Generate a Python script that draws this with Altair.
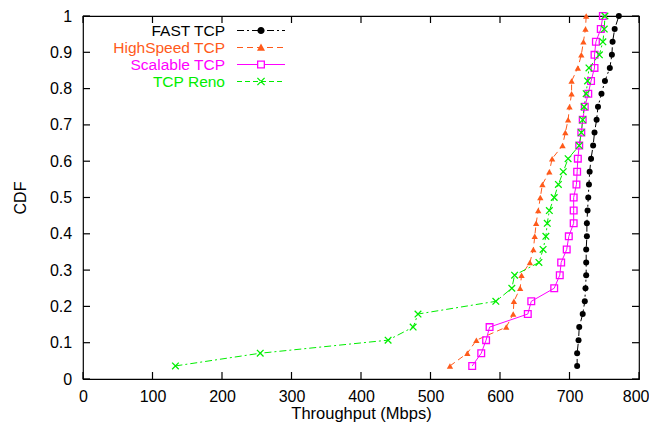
import altair as alt
import pandas as pd

# ---------------- data ----------------
SERIES = ["FAST TCP", "HighSpeed TCP", "Scalable TCP", "TCP Reno"]
COLORS = ["#000000", "#ff5a1a", "#ff00ff", "#00ee00"]

CDF = [0.036, 0.071, 0.107, 0.143, 0.179, 0.214, 0.25, 0.286, 0.321, 0.357,
       0.393, 0.429, 0.464, 0.5, 0.536, 0.571, 0.607, 0.643, 0.679, 0.714,
       0.75, 0.786, 0.821, 0.857, 0.893, 0.929, 0.964, 1.0]

FAST = [711, 711, 713, 714, 719, 722, 723, 724, 724, 724, 725, 725, 726, 727,
        728, 729, 731, 734, 736, 739, 741, 746, 751, 758, 761, 762, 765, 771]
HIGHSPEED = [528, 553, 566, 609, 619, 620, 629, 631, 643, 648, 650, 652, 655, 658,
             661, 671, 675, 690, 694, 698, 700, 703, 703, 712, 717, 720, 723, 724]
SCALABLE = [560, 573, 580, 585, 640, 645, 678, 686, 688, 696, 699, 706, 706, 706,
            710, 711, 712, 714, 717, 719, 722, 727, 731, 736, 736, 738, 745, 748]
RENO = [133, 255, 439, 475, 482, 594, 617, 621, 656, 662, 666, 668, 671, 678,
        684, 691, 698, 714, 717, 719, 721, 724, 726, 728, 743, 748, 750, 751]

X_TICKS = [0, 100, 200, 300, 400, 500, 600, 700, 800]
Y_TICKS = [0, 0.1, 0.2, 0.3, 0.4, 0.5, 0.6, 0.7, 0.8, 0.9, 1]

rows = []
for name, vals in zip(SERIES, [FAST, HIGHSPEED, SCALABLE, RENO]):
    for v, c in zip(vals, CDF):
        rows.append({"series": name, "throughput": v, "cdf": c})
df = pd.DataFrame(rows)
xt_df = pd.DataFrame({"v": X_TICKS})
yt_df = pd.DataFrame({"v": Y_TICKS})

# ---------------- styling ----------------
W, H = 556, 363
TICK = 7
FONT = "Liberation Sans"
RENO_X = "M-1,-1L1,1M-1,1L1,-1"

STYLE = {
    "FAST TCP": dict(dash=[7, 3, 2, 3], shape="circle", filled=True, size=36, sw=1),
    "HighSpeed TCP": dict(dash=[6, 4], shape="triangle-up", filled=True, size=40, sw=1),
    "Scalable TCP": dict(dash=None, shape="square", filled=False, size=45, sw=1.3),
    "TCP Reno": dict(dash=[7, 3, 2, 3], shape=RENO_X, filled=False, size=44, sw=1.3),
}

xs = alt.Scale(domain=[0, 800], nice=False, zero=False)
ys = alt.Scale(domain=[0, 1], nice=False, zero=False)
cs = alt.Scale(domain=SERIES, range=COLORS)

# ---- legend symbols: line sample + marker, drawn as filled shapes ----
U = 8.0  # px per path unit (symbolSize 256 -> 16px box)


def f(v):
    return f"{v / U:.3f}"


def seg(x0, x1, h=1.0):
    return f"M{f(x0)},{f(-h / 2)}H{f(x1)}V{f(h / 2)}H{f(x0)}Z"


def line_path(pattern, gap=None, half=24):
    out = []
    if not pattern:
        pieces = [(-half, half)]
    else:
        pieces = []
        x, i, on = -half, 0, True
        while x < half:
            L = pattern[i % len(pattern)]
            if on:
                pieces.append((x, min(x + L, half)))
            x += L
            i += 1
            on = not on
    for a, b in pieces:
        if gap is not None:
            if b <= -gap or a >= gap:
                out.append(seg(a, b))
            else:
                if a < -gap:
                    out.append(seg(a, -gap))
                if b > gap:
                    out.append(seg(gap, b))
        else:
            out.append(seg(a, b))
    return "".join(out)


def circle(r):
    return f"M{f(-r)},0A{f(r)},{f(r)} 0 1,1 {f(r)},0A{f(r)},{f(r)} 0 1,1 {f(-r)},0Z"


def triangle(a):
    return f"M0,{f(-a)}L{f(a)},{f(a * 0.8)}L{f(-a)},{f(a * 0.8)}Z"


def square_frame(a, t):
    c = a - t
    return (f"M{f(-a)},{f(-a)}H{f(a)}V{f(a)}H{f(-a)}Z"
            f"M{f(-c)},{f(-c)}V{f(c)}H{f(c)}V{f(-c)}Z")


def xmark(a, t):
    d = t / (2 * 2 ** 0.5)
    p1 = [(-a + d, -a - d), (a + d, a - d), (a - d, a + d), (-a - d, -a + d)]
    p2 = [(a - d, -a - d), (-a - d, a - d), (-a + d, a + d), (a + d, -a + d)]
    s = ""
    for poly in (p1, p2):
        s += "M" + "L".join(f"{f(x)},{f(y)}" for x, y in poly) + "Z"
    return s


LEG_PATH = {
    "FAST TCP": line_path([7, 3, 2, 3]) + circle(3.6),
    "HighSpeed TCP": line_path([6, 4]) + triangle(4),
    "Scalable TCP": line_path(None, gap=4) + square_frame(4, 1.3),
    "TCP Reno": line_path([5, 3]) + xmark(3.6, 1.3),
}


def choose(mapping):
    keys = list(mapping)
    expr = f"'{mapping[keys[-1]]}'"
    for k in reversed(keys[:-1]):
        expr = f"datum.value === '{k}' ? '{mapping[k]}' : " + expr
    return expr


color_expr = choose(dict(zip(SERIES, COLORS)))
symbol_expr = choose(LEG_PATH)

legend = alt.Legend(
    orient="none", legendX=128, legendY=6.5, title=None, padding=0,
    direction="vertical",
    labelAlign="right", labelOffset={"expr": "-44"}, labelBaseline="middle",
    labelFont=FONT, labelFontSize=15.5, labelLimit=0,
    labelColor={"expr": color_expr},
    symbolType={"expr": symbol_expr}, symbolSize=256,
    symbolFillColor={"expr": color_expr},
    symbolStrokeWidth=0, symbolOffset=42, symbolOpacity=1,
    rowPadding={"expr": "-2.3"},
)

LAST_X = X_TICKS[-1]
x_axis = alt.Axis(orient="bottom", values=X_TICKS, format="d", ticks=False, tickSize=0,
                  domain=False, grid=False, labelPadding=9.5, labelFlush=False,
                  labelFontSize=16,
                  labelAlign={"expr": f"datum.value == {LAST_X} ? 'right' : 'center'"},
                  labelOffset={"expr": f"datum.value == {LAST_X} ? 10 : 0"},
                  title="Throughput (Mbps)", titleFontSize=16.5,
                  titleBaseline="top", titleY=26.5)
y_axis = alt.Axis(orient="left", values=Y_TICKS, format="~g", ticks=False, tickSize=0,
                  domain=False, grid=False, labelPadding=11.3, labelFlush=False,
                  labelFontSize=16,
                  title="CDF", titleFontSize=16, titlePadding=21)


def base(name, with_axes=False, with_legend=False):
    return alt.Chart(df).transform_filter(alt.datum.series == name).encode(
        x=alt.X("throughput:Q", scale=xs, axis=x_axis if with_axes else None),
        y=alt.Y("cdf:Q", scale=ys, axis=y_axis if with_axes else None),
        color=alt.Color("series:N", scale=cs, legend=legend if with_legend else None),
        order=alt.Order("cdf:Q"),
    )


def points(name, **kw):
    st = STYLE[name]
    return base(name, **kw).mark_point(
        shape=st["shape"], filled=st["filled"], size=st["size"],
        strokeWidth=st["sw"], opacity=1)


def line(name):
    st = STYLE[name]
    props = dict(strokeWidth=1)
    if st["dash"]:
        props["strokeDash"] = st["dash"]
    return base(name).mark_line(**props)


layers = [points("FAST TCP", with_axes=True, with_legend=True)]
layers += [line(n) for n in SERIES]
layers += [points(n) for n in SERIES[1:]]

# inward-pointing tick marks on all four sides (gnuplot-style frame),
# positioned along the axes by the shared scales
tick_mark = dict(color="black", strokeWidth=1.2)
xv = alt.X("v:Q", scale=xs, axis=None)
yv = alt.Y("v:Q", scale=ys, axis=None)
ticks_bottom = alt.Chart(xt_df).mark_rule(**tick_mark).encode(
    x=xv, y=alt.value(H), y2=alt.value(H - TICK))
ticks_top = alt.Chart(xt_df).mark_rule(**tick_mark).encode(
    x=xv, y=alt.value(0), y2=alt.value(TICK))
ticks_left = alt.Chart(yt_df).mark_rule(**tick_mark).encode(
    y=yv, x=alt.value(0), x2=alt.value(TICK))
ticks_right = alt.Chart(yt_df).mark_rule(**tick_mark).encode(
    y=yv, x=alt.value(W), x2=alt.value(W - TICK))
layers += [ticks_bottom, ticks_top, ticks_left, ticks_right]

chart = (
    alt.layer(*layers)
    .resolve_axis(x="independent", y="independent")
    .properties(
        width=W, height=H,
        autosize=alt.AutoSizeParams(type="none"),
        padding={"left": 75, "top": 8, "right": 10, "bottom": 44},
        background="white",
    )
    .configure(font=FONT)
    .configure_view(stroke="black", strokeWidth=1.2)
    .configure_axis(labelFont=FONT, labelFontSize=16, labelColor="black",
                    titleFont=FONT, titleFontSize=16, titleFontWeight="normal",
                    titleColor="black")
)

chart.save("out.html", embed_options={"renderer": "svg", "actions": False})
